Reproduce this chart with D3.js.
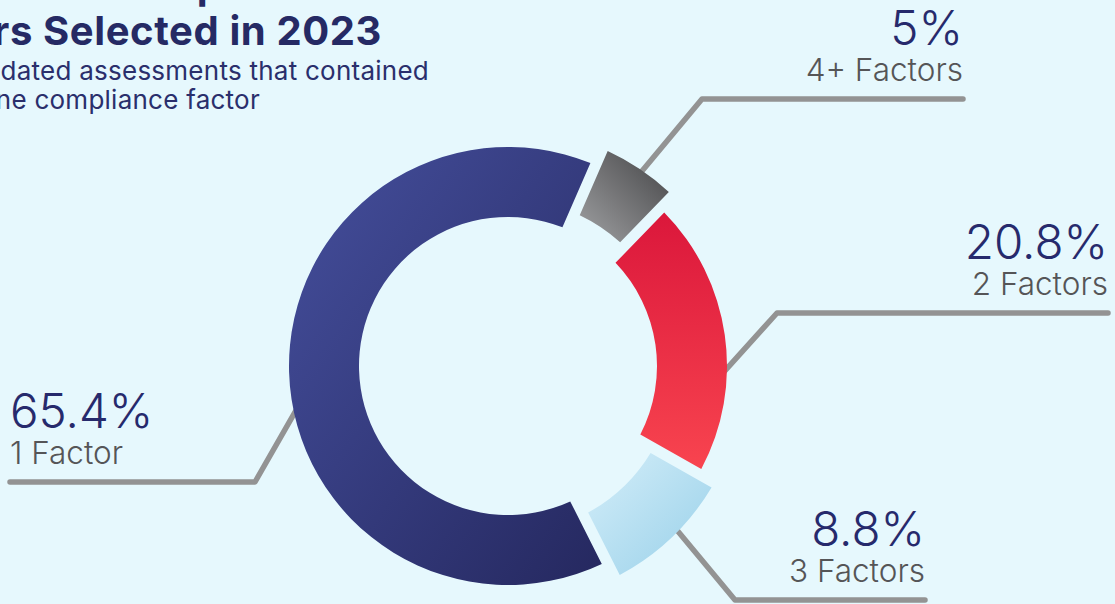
<!DOCTYPE html>
<html>
<head>
<meta charset="utf-8">
<script src="https://cdn.jsdelivr.net/npm/d3@7"></script>
<style>
  html, body { margin: 0; padding: 0; background: #e6f8fd; overflow: hidden; }
  svg { display: block; }
</style>
</head>
<body>
<div id="chart"></div>
<script>
// data, in clockwise drawing order
const categories = ["1 Factor", "4+ Factors", "2 Factors", "3 Factors"]
const values = [65.4, 5, 20.8, 8.8]
const percentLabels = ["65.4%", "5%", "20.8%", "8.8%"]

const titleLines = ["Number of Compliance", "Factors Selected in 2023"]
const subtitleLines = ["Percentage of validated assessments that contained", "at least one compliance factor"]

const width = 1115
const height = 604
const cx = 508, cy = 366
const inner = 149, outer = 219
const pop = 18

// slice styling + leader layout
const look = {
  "1 Factor":   { grad: ["#454f9d", "#25285f"], dir: [0, 0, 1, 1], exploded: false,
                  start: [262, 205], elbow: [255, 482], end: 10, side: "left" },
  "4+ Factors": { grad: ["#a0a1a3", "#444446"], dir: [0, 1, 1, 0], exploded: true,
                  start: [33.6, 202], elbow: [702, 99], end: 963, side: "right" },
  "2 Factors":  { grad: ["#db173b", "#f8444f"], dir: [0, 0, 0, 1], exploded: false,
                  start: [99, 196], elbow: [777, 313], end: 1108, side: "right" },
  "3 Factors":  { grad: ["#d4eef9", "#98d0e9"], dir: [0, 0, 1, 1], exploded: true,
                  start: [133, 198], elbow: [735, 600], end: 925, side: "right" }
}

const rows = categories.map((c, i) => ({ cat: c, value: values[i], pct: percentLabels[i] }))

const svg = d3.select("#chart")
  .append("svg")
  .attr("width", width)
  .attr("height", height)

svg.append("rect").attr("width", width).attr("height", height).attr("fill", "#e6f8fd")

const defs = svg.append("defs")
rows.forEach((d, i) => {
  const l = look[d.cat]
  const g = defs.append("linearGradient")
    .attr("id", "grad" + i)
    .attr("x1", l.dir[0]).attr("y1", l.dir[1])
    .attr("x2", l.dir[2]).attr("y2", l.dir[3])
  g.append("stop").attr("offset", 0).attr("stop-color", l.grad[0])
  g.append("stop").attr("offset", 1).attr("stop-color", l.grad[1])
})

const pie = d3.pie()
  .value(d => d.value)
  .sort(null)
  .startAngle(153.2 * Math.PI / 180)
  .endAngle(153.2 * Math.PI / 180 + 2 * Math.PI)
  .padAngle(0.055)

const arc = d3.arc()
  .innerRadius(d => look[d.data.cat].exploded ? inner + pop : inner)
  .outerRadius(d => look[d.data.cat].exploded ? outer + pop : outer)
  .padRadius(200)

const arcs = pie(rows)

// leader lines sit under the slices
const polar = (deg, r) => [cx + r * Math.sin(deg * Math.PI / 180), cy - r * Math.cos(deg * Math.PI / 180)]

svg.append("g")
  .selectAll("path")
  .data(arcs)
  .join("path")
  .attr("d", d => {
    const l = look[d.data.cat]
    return d3.line()([polar(l.start[0], l.start[1]), l.elbow, [l.end, l.elbow[1]]])
  })
  .attr("fill", "none")
  .attr("stroke", "#939393")
  .attr("stroke-width", 5.5)
  .attr("stroke-linecap", "round")
  .attr("stroke-linejoin", "round")

svg.append("g")
  .attr("transform", `translate(${cx},${cy})`)
  .selectAll("path")
  .data(arcs)
  .join("path")
  .attr("d", arc)
  .attr("fill", (d, i) => `url(#grad${i})`)

// labels
const labels = svg.append("g")
  .selectAll("g")
  .data(arcs)
  .join("g")

labels.append("text")
  .attr("x", d => look[d.data.cat].end)
  .attr("y", d => look[d.data.cat].elbow[1] - 54)
  .attr("text-anchor", d => look[d.data.cat].side === "left" ? "start" : "end")
  .attr("font-family", "Inter, sans-serif")
  .attr("font-weight", 300)
  .attr("font-size", 47.5)
  .attr("fill", "#262a6c")
  .text(d => d.data.pct)

labels.append("text")
  .attr("x", d => look[d.data.cat].end)
  .attr("y", d => look[d.data.cat].elbow[1] - 18)
  .attr("text-anchor", d => look[d.data.cat].side === "left" ? "start" : "end")
  .attr("font-family", "Inter, sans-serif")
  .attr("font-weight", 300)
  .attr("font-size", 31.5)
  .attr("fill", "#555557")
  .text(d => d.data.cat)

// title block, partly cut off on the left
const t2 = svg.append("text")
  .attr("x", 382).attr("y", 45)
  .attr("text-anchor", "end")
  .attr("font-family", "Inter, sans-serif")
  .attr("font-weight", 700)
  .attr("font-size", 40)
  .attr("letter-spacing", 0.6)
  .attr("fill", "#252a64")
  .text(titleLines[1])

const left = 382 - t2.node().getComputedTextLength()

svg.append("text")
  .attr("x", left).attr("y", -1)
  .attr("font-family", "Inter, sans-serif")
  .attr("font-weight", 700)
  .attr("font-size", 40)
  .attr("letter-spacing", 0.6)
  .attr("fill", "#252a64")
  .text(titleLines[0])

svg.append("text")
  .attr("x", 429).attr("y", 80)
  .attr("text-anchor", "end")
  .attr("font-family", "Inter, sans-serif")
  .attr("font-weight", 400)
  .attr("font-size", 26)
  .attr("letter-spacing", 0.25)
  .attr("fill", "#2a2f6c")
  .text(subtitleLines[0])

svg.append("text")
  .attr("x", 260).attr("y", 109)
  .attr("text-anchor", "end")
  .attr("font-family", "Inter, sans-serif")
  .attr("font-weight", 400)
  .attr("font-size", 26)
  .attr("letter-spacing", 0.25)
  .attr("fill", "#2a2f6c")
  .text(subtitleLines[1])
</script>
</body>
</html>
